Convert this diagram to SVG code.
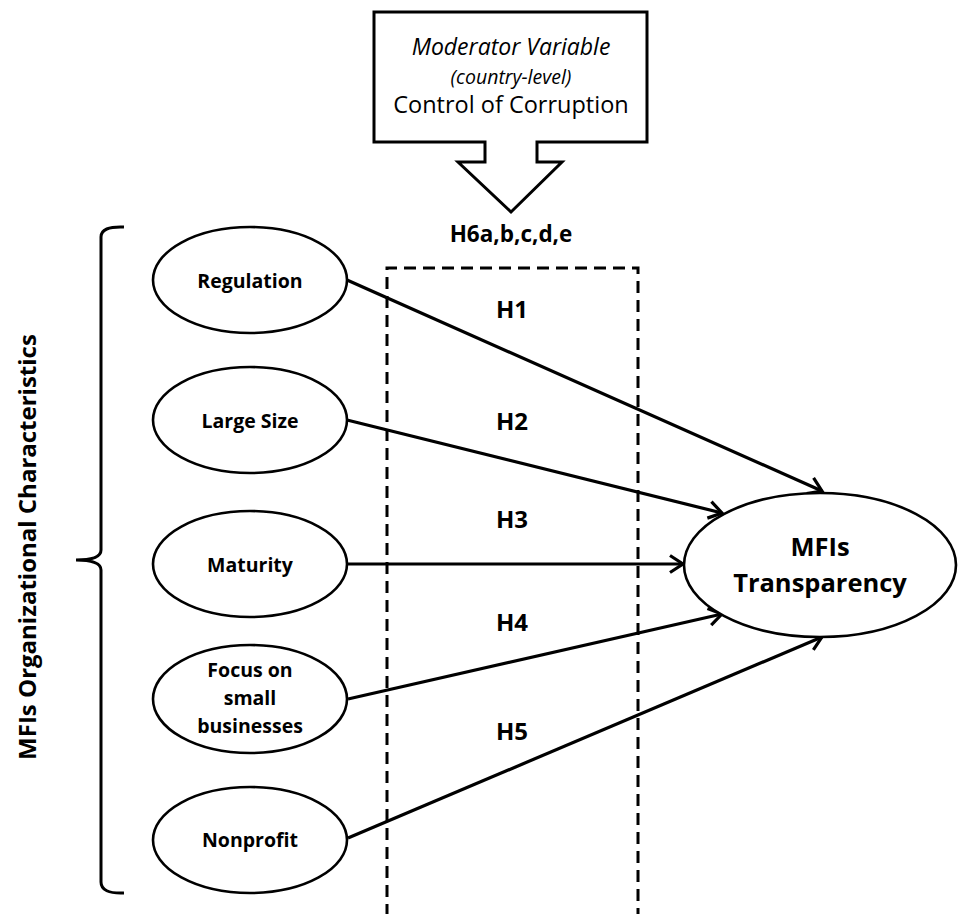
<svg xmlns="http://www.w3.org/2000/svg" width="959" height="914" viewBox="0 0 959 914">
<defs>
<style>
.node ellipse{fill:#fff;stroke:#000;stroke-width:2.6}
.lbl{font-family:"Open Sans","Liberation Sans",sans-serif;font-weight:bold;font-size:19.5px;fill:#000;text-anchor:middle}
.big{font-size:25.5px}
.hyp{font-family:"Open Sans","Liberation Sans",sans-serif;font-weight:bold;font-size:24px;fill:#000;text-anchor:middle}
.conn line{stroke:#000;stroke-width:3.2;fill:none;marker-end:url(#arr)}
.box{font-family:"Open Sans","Liberation Sans",sans-serif;fill:#000;text-anchor:middle}
</style>
<marker id="arr" markerUnits="userSpaceOnUse" markerWidth="30" markerHeight="30" refX="0" refY="0" viewBox="-20 -15 30 30" orient="auto" overflow="visible">
<path d="M-13,-8.5 L0,0 L-13,8.5" fill="none" stroke="#000" stroke-width="3.2" stroke-linejoin="miter"/>
</marker>
</defs>
<rect width="959" height="914" fill="#fff"/>

<g id="moderator">
<path d="M374,12 H647 V142 H537 V162 H562 L511,212 L458,162 H485 V142 H374 Z" fill="#fff" stroke="#000" stroke-width="3"/>
<text class="box" x="511" y="55" style="font-size:23px;font-style:italic">Moderator Variable</text>
<text class="box" x="511" y="84" style="font-size:19.5px;font-style:italic">(country-level)</text>
<text class="box" x="511" y="113" style="font-size:23.5px">Control of Corruption</text>
</g>

<g id="moderation-box">
<path d="M387,916 V268 H638 V916" fill="none" stroke="#000" stroke-width="3" stroke-dasharray="12 7"/>
<text class="hyp" x="511" y="242" style="font-size:22.5px">H6a,b,c,d,e</text>
</g>

<g id="bracket">
<path d="M124,227 Q101,226 101,237 V550 Q101,560 76,560 Q101,560 101,570 V882 Q101,894 124,893" fill="none" stroke="#000" stroke-width="3"/>
<text class="hyp" transform="translate(36,547) rotate(-90)" style="font-size:24px">MFIs Organizational Characteristics</text>
</g>

<g id="connectors" class="conn">
<line x1="347" y1="280" x2="822" y2="491"/>
<line x1="347" y1="420" x2="722" y2="513"/>
<line x1="347" y1="564" x2="683" y2="564"/>
<line x1="348" y1="699" x2="722" y2="614"/>
<line x1="348" y1="838" x2="822" y2="637"/>
</g>

<g id="hyp-labels">
<text class="hyp" x="512" y="318">H1</text>
<text class="hyp" x="512" y="430">H2</text>
<text class="hyp" x="512" y="528">H3</text>
<text class="hyp" x="512" y="631">H4</text>
<text class="hyp" x="512" y="740">H5</text>
</g>

<g id="regulation" class="node">
<ellipse cx="250" cy="280" rx="97" ry="53"/>
<text class="lbl" x="250" y="288">Regulation</text>
</g>
<g id="large-size" class="node">
<ellipse cx="250" cy="420" rx="97" ry="53"/>
<text class="lbl" x="250" y="428">Large Size</text>
</g>
<g id="maturity" class="node">
<ellipse cx="250" cy="564" rx="97" ry="53"/>
<text class="lbl" x="250" y="572">Maturity</text>
</g>
<g id="focus-small" class="node">
<ellipse cx="250" cy="699" rx="97" ry="54"/>
<text class="lbl" x="250" y="677">Focus on</text>
<text class="lbl" x="250" y="705">small</text>
<text class="lbl" x="250" y="733">businesses</text>
</g>
<g id="nonprofit" class="node">
<ellipse cx="250" cy="840" rx="97" ry="53"/>
<text class="lbl" x="250" y="847">Nonprofit</text>
</g>
<g id="mfi-transparency" class="node">
<ellipse cx="820" cy="565" rx="136" ry="72"/>
<text class="lbl big" x="820" y="556">MFIs</text>
<text class="lbl big" x="820" y="592">Transparency</text>
</g>
</svg>
